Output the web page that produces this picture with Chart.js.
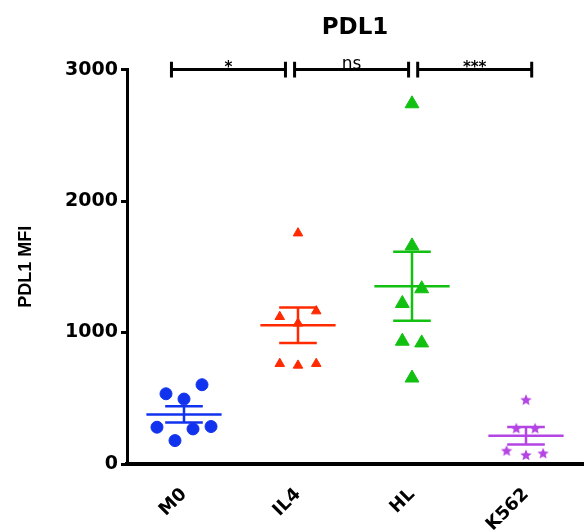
<!DOCTYPE html>
<html>
<head>
<meta charset="utf-8">
<title>PDL1</title>
<script src="https://cdn.jsdelivr.net/npm/chart.js@4.4.1/dist/chart.umd.min.js"></script>
<style>
  html, body { margin: 0; padding: 0; background: #fff; overflow: hidden; }
  #wrap { width: 585px; height: 531px; position: relative; }
  #pdl1Chart { display: block; }
</style>
</head>
<body>
<div id="wrap"><canvas id="pdl1Chart"></canvas></div>
<script>
// groups on the x axis
const groups = ["M0", "IL4", "HL", "K562"];

// PDL1 MFI per sample
const valuesM0 = [534, 603, 494, 280, 267, 285, 178];
const valuesIL4 = [1756, 1120, 1163, 1070, 763, 750, 763];
const valuesHL = [2740, 1659, 1333, 1221, 934, 921, 654];
const valuesK562 = [489, 272, 272, 102, 69, 82];

// horizontal scatter of each sample around its group (group units)
const spreadM0 = [-0.158, 0.158, 0, -0.237, 0.079, 0.237, -0.079];
const spreadIL4 = [0, -0.16, 0.16, 0, -0.16, 0, 0.16];
const spreadHL = [0, 0, 0.085, -0.085, -0.085, 0.085, 0];
const spreadK562 = [0, -0.085, 0.08, -0.17, 0, 0.15];

const yTicks = [0, 1000, 2000, 3000];

// significance brackets
const bracketFrom = [0.89, 1.97, 3.05];
const bracketTo = [1.89, 2.97, 4.05];
const bracketLabels = ["*", "ns", "***"];
const bracketLevel = 3000;

const colors = ["#1233ee", "#ff2a00", "#12c012", "#b444e4"];

function mean(arr) {
  return arr.reduce((a, b) => a + b, 0) / arr.length;
}
function sem(arr) {
  const m = mean(arr);
  const sd = Math.sqrt(arr.reduce((a, b) => a + (b - m) * (b - m), 0) / (arr.length - 1));
  return sd / Math.sqrt(arr.length);
}

// filled five point star for K562
function makeStar(color, r) {
  const c = document.createElement("canvas");
  c.width = c.height = Math.ceil(r * 2 + 2);
  const g = c.getContext("2d");
  const cx = c.width / 2, cy = c.height / 2;
  g.beginPath();
  for (let i = 0; i < 10; i++) {
    const rad = i % 2 === 0 ? r : r * 0.45;
    const a = -Math.PI / 2 + (i * Math.PI) / 5;
    g.lineTo(cx + Math.cos(a) * rad, cy + Math.sin(a) * rad + 0.5);
  }
  g.closePath();
  g.fillStyle = color;
  g.fill();
  return c;
}

const allValues = [valuesM0, valuesIL4, valuesHL, valuesK562];
const allSpread = [spreadM0, spreadIL4, spreadHL, spreadK562];
const markers = ["circle", "triangle", "triangle", makeStar(colors[3], 6)];
const markerSize = [6, 5.5, 8, 6];

const pointSets = allValues.map((vals, g) => ({
  label: groups[g],
  data: vals.map((v, i) => ({ x: g + 1 + allSpread[g][i], y: v })),
  pointStyle: markers[g],
  pointRadius: markerSize[g],
  pointBackgroundColor: colors[g],
  pointBorderColor: colors[g],
  pointBorderWidth: 1,
  showLine: false,
  clip: false,
}));

// mean line with SEM whiskers
const barSets = allValues.map((vals, g) => {
  const c = g + 1, m = mean(vals), s = sem(vals);
  return {
    label: groups[g] + " mean",
    data: [
      { x: c - 0.33, y: m }, { x: c + 0.33, y: m }, { x: c, y: null },
      { x: c - 0.165, y: m + s }, { x: c + 0.165, y: m + s }, { x: c, y: null },
      { x: c - 0.165, y: m - s }, { x: c + 0.165, y: m - s }, { x: c, y: null },
      { x: c, y: m - s }, { x: c, y: m + s },
    ],
    showLine: true,
    borderColor: colors[g],
    borderWidth: 2.5,
    pointRadius: 0,
    spanGaps: false,
    clip: false,
  };
});

const capHalf = 60;
const bracketSets = bracketFrom.map((a, i) => {
  const b = bracketTo[i];
  return {
    label: bracketLabels[i],
    data: [
      { x: a, y: bracketLevel - capHalf }, { x: a, y: bracketLevel + capHalf }, { x: a, y: null },
      { x: a, y: bracketLevel }, { x: b, y: bracketLevel }, { x: a, y: null },
      { x: b, y: bracketLevel - capHalf }, { x: b, y: bracketLevel + capHalf },
    ],
    showLine: true,
    borderColor: "#000",
    borderWidth: 3,
    pointRadius: 0,
    spanGaps: false,
    clip: false,
  };
});

// stars / ns text above the brackets
const bracketText = {
  id: "bracketText",
  afterDatasetsDraw(chart) {
    const { ctx, scales } = chart;
    ctx.save();
    ctx.fillStyle = "#000";
    ctx.textAlign = "center";
    ctx.textBaseline = "alphabetic";
    bracketLabels.forEach((t, i) => {
      const x = scales.x.getPixelForValue((bracketFrom[i] + bracketTo[i]) / 2);
      const y = scales.y.getPixelForValue(bracketLevel);
      ctx.font = t === "ns" ? "17px 'DejaVu Sans'" : "bold 15px 'DejaVu Sans'";
      ctx.fillText(t, x, t === "ns" ? y - 1 : y + 2);
    });
    ctx.restore();
  },
};

new Chart(document.getElementById("pdl1Chart"), {
  type: "scatter",
  data: {
    datasets: [...bracketSets, ...barSets, ...pointSets],
  },
  options: {
    responsive: true,
    maintainAspectRatio: false,
    animation: false,
    layout: { autoPadding: false, padding: { left: 0, right: 2, top: 0, bottom: 0 } },
    plugins: {
      legend: { display: false },
      tooltip: { enabled: false },
    },
    scales: {
      x: {
        type: "linear",
        min: 0.5,
        max: 4.5,
        afterBuildTicks: (axis) => {
          axis.ticks = groups.map((g, i) => ({ value: i + 1 }));
        },
        afterFit: (axis) => {
          axis.height = 67;
        },
        grid: { display: false, drawTicks: false },
        border: { display: true, color: "#000", width: 4 },
        ticks: {
          autoSkip: false,
          minRotation: 45,
          maxRotation: 45,
          padding: 20,
          color: "#000",
          font: { family: "'DejaVu Sans'", weight: "bold", size: 18 },
          callback: (v) => groups[v - 1],
        },
      },
      top: {
        type: "linear",
        position: "top",
        min: 0.5,
        max: 4.5,
        grid: { display: false, drawTicks: false },
        border: { display: false },
        ticks: { display: false },
        title: {
          display: true,
          text: "PDL1",
          color: "#000",
          font: { family: "'DejaVu Sans'", weight: "bold", size: 23 },
          padding: { top: 14, bottom: 28 },
        },
      },
      y: {
        min: 0,
        max: 3000,
        afterBuildTicks: (axis) => {
          axis.ticks = yTicks.map((v) => ({ value: v }));
        },
        afterFit: (axis) => {
          axis.width = 127;
        },
        grid: {
          display: true,
          drawOnChartArea: false,
          drawTicks: true,
          tickLength: 6,
          tickWidth: 3,
          tickColor: "#000",
        },
        border: { display: true, color: "#000", width: 3 },
        ticks: {
          padding: 3,
          color: "#000",
          font: { family: "'DejaVu Sans'", weight: "bold", size: 19 },
          callback: (v) => String(v),
        },
        title: {
          display: true,
          text: "PDL1 MFI",
          color: "#000",
          font: { family: "'Liberation Sans'", weight: "bold", size: 18 },
          padding: { top: 15, bottom: 30 },
        },
      },
    },
  },
  plugins: [bracketText],
});
</script>
</body>
</html>
